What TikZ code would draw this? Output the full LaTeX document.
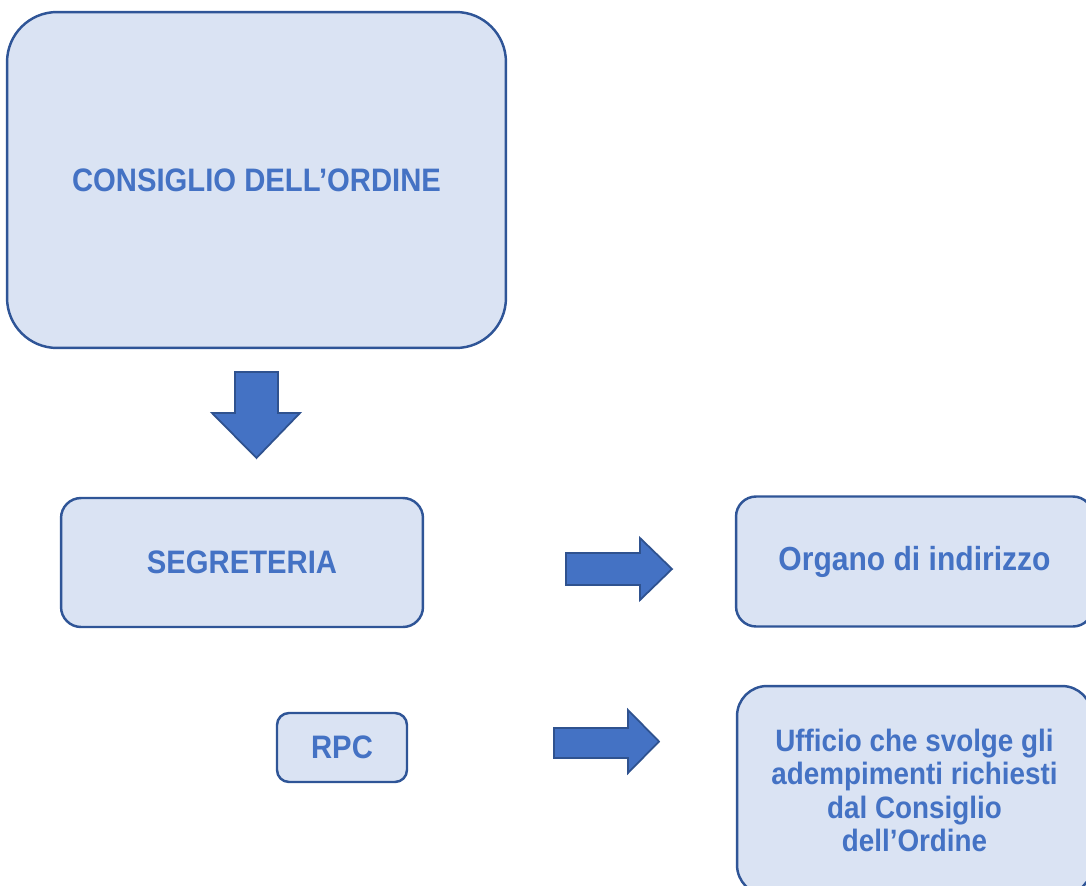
\documentclass[tikz,border=0pt]{standalone}
\usepackage{fontspec}
\setmainfont{Liberation Sans}
\newfontfamily\labelfont{Liberation Sans}[FakeStretch=0.9]
\usetikzlibrary{positioning}

\definecolor{boxfill}{HTML}{DAE3F3}
\definecolor{boxedge}{HTML}{2F5597}
\definecolor{textblue}{HTML}{4472C4}
\definecolor{arrowedge}{HTML}{2F528F}

\tikzset{
            organbox/.style = {draw=boxedge, fill=boxfill, line width=1.4pt, text=textblue,
                font={\labelfont\bfseries\fontsize{18.5}{22}\selectfont}, align=center, inner sep=0pt},
            blockarrow/.style = {draw=arrowedge, fill=textblue, line width=1pt, line join=miter}
        }

\begin{document}
\begin{tikzpicture}[x=0.02cm, y=-0.02cm]
            \clip (0, 0) rectangle (1086, 886);

            \node[organbox, rounded corners=1cm, minimum width=9.98cm, minimum height=6.72cm] (consiglio) at (256.5, 180) {CONSIGLIO DELL’ORDINE};

            \draw[blockarrow] (235, 372) -- (278, 372) -- (278, 413) -- (300, 413) -- (256.5, 458) -- (212, 413) -- (235, 413) -- cycle;

            \node[organbox, rounded corners=0.4cm, minimum width=7.24cm, minimum height=2.58cm] (segreteria) at (242, 562.5) {SEGRETERIA};

            \draw[blockarrow] (566, 553) -- (640, 553) -- (640, 538) -- (672, 569) -- (640, 600) -- (640, 585) -- (566, 585) -- cycle;

            \node[organbox, rounded corners=0.4cm, minimum width=7.14cm, minimum height=2.6cm,
                font={\labelfont\bfseries\fontsize{19}{22}\selectfont}] (organo) at (914.5, 561.5) {Organo di indirizzo};

            \node[organbox, rounded corners=0.24cm, minimum width=2.6cm, minimum height=1.38cm] (rpc) at (342, 747.5) {RPC};

            \draw[blockarrow] (554, 728) -- (628, 728) -- (628, 710) -- (659, 741.5) -- (628, 773) -- (628, 758) -- (554, 758) -- cycle;

            \node[organbox, rounded corners=0.6cm, minimum width=7.1cm, minimum height=4.18cm,
                font={\labelfont\bfseries\fontsize{17.6}{19}\selectfont}] (ufficio) at (914.5, 790.5)
                {Ufficio che svolge gli\\adempimenti richiesti\\dal Consiglio\\dell’Ordine};
        \end{tikzpicture}
\end{document}
